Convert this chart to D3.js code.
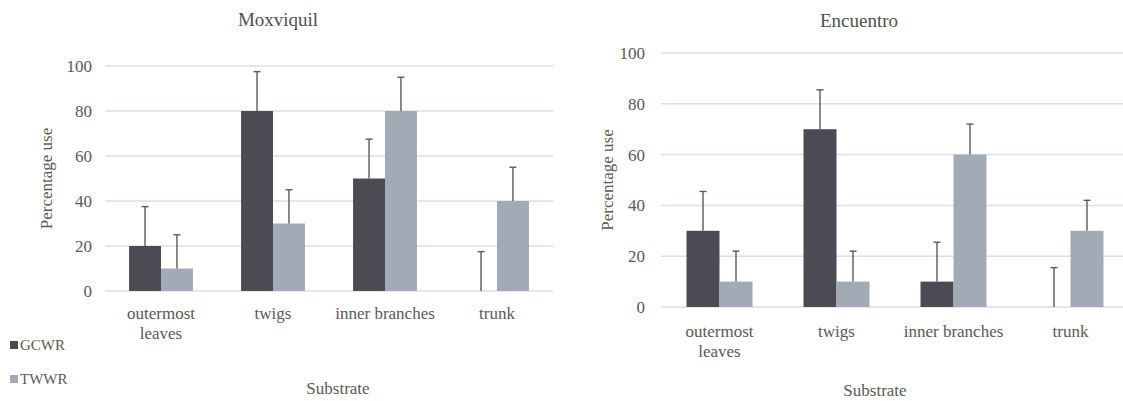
<!DOCTYPE html>
<html>
<head>
<meta charset="utf-8">
<script src="https://cdn.jsdelivr.net/npm/d3@7"></script>
<style>
  html, body { margin: 0; padding: 0; background: #fff; }
  svg { display: block; }
</style>
</head>
<body>
<svg id="chart" width="1123" height="401" font-family="'Liberation Serif', 'DejaVu Serif', 'Times New Roman', Times, serif"></svg>
<script>
// ---- data ----
const categories = ["outermost leaves", "twigs", "inner branches", "trunk"];
const seriesNames = ["GCWR", "TWWR"];
const yTicks = [0, 20, 40, 60, 80, 100];

const moxGCWR = [20, 80, 50, 0];
const moxGCWRerr = [17.5, 17.5, 17.5, 17.5];
const moxTWWR = [10, 30, 80, 40];
const moxTWWRerr = [15, 15, 15, 15];

const encGCWR = [30, 70, 10, 0];
const encGCWRerr = [15.5, 15.5, 15.5, 15.5];
const encTWWR = [10, 10, 60, 30];
const encTWWRerr = [12, 12, 12, 12];

// ---- styles ----
const colors = { GCWR: "#4c4b54", TWWR: "#a3a9b5" };
const gridColor = "#d8deea";
const errColor = "#5a5a5a";
const textColor = "#595959";
const FONT = "'Liberation Serif', 'DejaVu Serif', 'Times New Roman', Times, serif";

const svg = d3.select("#chart");

function txt(g) {
  return g.append("text").attr("font-family", FONT).attr("fill", textColor);
}

function panel(cfg) {
  const g = svg.append("g");
  const x = d3.scaleBand().domain(categories).range([cfg.x0, cfg.x1]).paddingInner(cfg.pad).paddingOuter(cfg.pad / 2);
  const xs = d3.scaleBand().domain(seriesNames).range([0, x.bandwidth()]);
  const y = d3.scaleLinear().domain([0, 100]).range([cfg.y0, cfg.y1]);

  // gridlines
  g.selectAll("line.grid").data(yTicks).join("line")
    .attr("x1", cfg.x0).attr("x2", cfg.gridEnd)
    .attr("y1", d => y(d)).attr("y2", d => y(d))
    .attr("stroke", gridColor).attr("stroke-width", 1.5);

  // y tick labels
  yTicks.forEach(d => {
    txt(g).attr("x", cfg.x0 - cfg.tickGap).attr("y", y(d))
      .attr("dy", "0.35em").attr("text-anchor", "end")
      .attr("font-size", 17).text(d);
  });

  const rows = seriesNames.map(s => ({ name: s, values: cfg.data[s], errs: cfg.err[s] }));

  rows.forEach(r => {
    const gs = g.append("g");
    categories.forEach((c, i) => {
      const bx = x(c) + xs(r.name);
      const v = r.values[i];
      if (v > 0) {
        gs.append("rect")
          .attr("x", bx).attr("width", xs.bandwidth())
          .attr("y", y(v)).attr("height", y(0) - y(v))
          .attr("fill", colors[r.name]);
      }
      const cx = bx + xs.bandwidth() / 2;
      const top = y(v + r.errs[i]);
      gs.append("line").attr("x1", cx).attr("x2", cx).attr("y1", y(v)).attr("y2", top)
        .attr("stroke", errColor).attr("stroke-width", 1.4);
      gs.append("line").attr("x1", cx - 3.5).attr("x2", cx + 3.5).attr("y1", top).attr("y2", top)
        .attr("stroke", errColor).attr("stroke-width", 1.4);
    });
  });

  // x category labels (wrapped)
  categories.forEach(c => {
    const cx = x(c) + x.bandwidth() / 2;
    const parts = c === "outermost leaves" ? ["outermost", "leaves"] : [c];
    parts.forEach((p, k) => {
      txt(g).attr("x", cx).attr("y", cfg.labelY + k * 20)
        .attr("text-anchor", "middle").attr("dy", "0.35em")
        .attr("font-size", 17).text(p);
    });
  });

  // title
  txt(g).attr("x", cfg.titleX).attr("y", cfg.titleY).attr("dy", "0.35em")
    .attr("text-anchor", "middle").attr("font-size", 19).attr("fill", "#505050").text(cfg.title);

  // y axis title
  txt(g).attr("transform", `translate(${cfg.yTitleX},${(cfg.y0 + cfg.y1) / 2}) rotate(-90)`)
    .attr("text-anchor", "middle").attr("dy", "0.35em")
    .attr("font-size", 17).text("Percentage use");

  // x axis title
  txt(g).attr("x", cfg.xTitleX).attr("y", cfg.xTitleY).attr("dy", "0.35em")
    .attr("text-anchor", "middle").attr("font-size", 17).text("Substrate");
}

panel({
  title: "Moxviquil", titleX: 278, titleY: 19,
  x0: 105, x1: 553, gridEnd: 553, pad: 0.43,
  y0: 291, y1: 66, tickGap: 13,
  labelY: 313, yTitleX: 46, xTitleX: 338, xTitleY: 388,
  data: { GCWR: moxGCWR, TWWR: moxTWWR },
  err: { GCWR: moxGCWRerr, TWWR: moxTWWRerr }
});

panel({
  title: "Encuentro", titleX: 859, titleY: 20,
  x0: 661, x1: 1129, gridEnd: 1123, pad: 0.436,
  y0: 307, y1: 53, tickGap: 16,
  labelY: 331, yTitleX: 607, xTitleX: 875, xTitleY: 390,
  data: { GCWR: encGCWR, TWWR: encTWWR },
  err: { GCWR: encGCWRerr, TWWR: encTWWRerr }
});

// legend
const legend = svg.append("g");
seriesNames.forEach((s, i) => {
  const ly = 345 + i * 34;
  legend.append("rect").attr("x", 10).attr("y", ly - 4).attr("width", 8).attr("height", 8).attr("fill", colors[s]);
  txt(legend).attr("x", 20).attr("y", ly).attr("dy", "0.35em").attr("font-size", 15).text(s);
});
</script>
</body>
</html>
